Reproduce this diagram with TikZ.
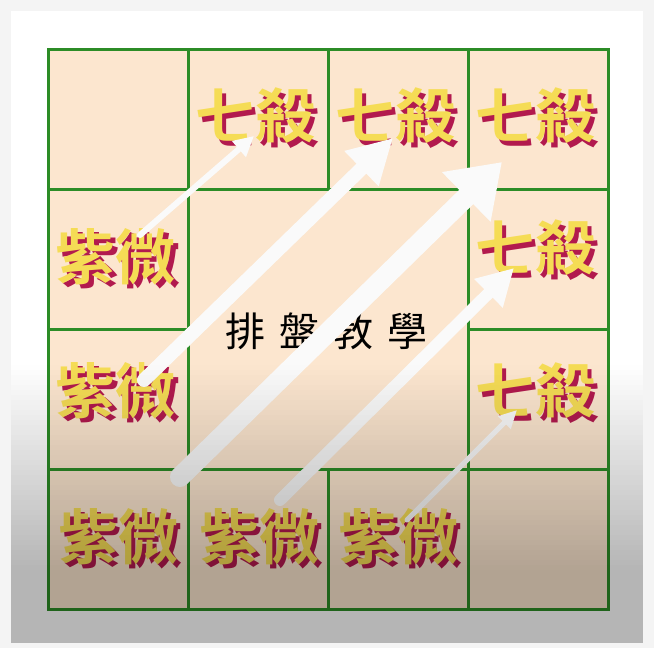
\documentclass[tikz,border=0pt]{standalone}
\usepackage{fontspec}
\newfontfamily\cjkb{Noto Sans CJK TC}[UprightFont=* Bold]
\newfontfamily\cjkr{Noto Sans CJK TC}
\usetikzlibrary{arrows.meta}
\definecolor{outerc}{RGB}{244,244,244}
\definecolor{peach}{RGB}{252,230,207}
\definecolor{gridg}{RGB}{44,140,38}
\definecolor{goldc}{RGB}{245,220,85}
\definecolor{crimc}{RGB}{178,26,78}
\definecolor{arrowc}{RGB}{250,250,250}
\newcommand\starlbl[1]{\rlap{\kern4.5pt\raisebox{-4.5pt}{\textcolor{crimc}{#1}}}\textcolor{goldc}{#1}}
\begin{document}
\begin{tikzpicture}[x=1pt,y=-1pt,
  cell/.style={draw=gridg, line width=2.6pt, fill=peach, minimum width=140pt, minimum height=140pt, inner sep=0pt, anchor=north west},
  bigcell/.style={cell, minimum width=280pt, minimum height=280pt},
  star/.style={font=\cjkb\fontsize{60pt}{60pt}\selectfont, inner sep=0pt},
  title/.style={font=\cjkr\fontsize{40pt}{40pt}\selectfont, text=black, inner sep=0pt},
  move/.style={draw=arrowc, line cap=round}]
\useasboundingbox (0,0) rectangle (654,648);
\fill[outerc] (0,0) rectangle (654,648);
\fill[white] (11,11) rectangle (643,643);
% cells
\node[cell] (c11) at (47,48) {};
\node[cell] (c12) at (187,48) {};
\node[cell] (c13) at (327,48) {};
\node[cell] (c14) at (467,48) {};
\node[cell] (c21) at (47,188) {};
\node[bigcell] (mid) at (187,188) {};
\node[cell] (c24) at (467,188) {};
\node[cell] (c31) at (47,328) {};
\node[cell] (c34) at (467,328) {};
\node[cell] (c41) at (47,468) {};
\node[cell] (c42) at (187,468) {};
\node[cell] (c43) at (327,468) {};
\node[cell] (c44) at (467,468) {};
% labels
\node[star] (q12) at (255,118) {\starlbl{七殺}};
\node[star] (q13) at (395,118) {\starlbl{七殺}};
\node[star] (q14) at (535,118) {\starlbl{七殺}};
\node[star] (q24) at (535,250) {\starlbl{七殺}};
\node[star] (q34) at (535,393) {\starlbl{七殺}};
\node[star] (z21) at (116,259) {\starlbl{紫微}};
\node[star] (z31) at (116,393) {\starlbl{紫微}};
\node[star] (z41) at (118,539) {\starlbl{紫微}};
\node[star] (z42) at (259,539) {\starlbl{紫微}};
\node[star] (z43) at (398,539) {\starlbl{紫微}};
\node[title] (ttl) at (326,331) {排\kern14pt 盤\kern14pt 教\kern14pt 學};
% arrow end points
\coordinate (a1s) at (140,235); \coordinate (a1e) at (254,136);
\coordinate (a2s) at (144,380); \coordinate (a2e) at (393,138);
\coordinate (a3s) at (180,477); \coordinate (a3e) at (502,162);
\coordinate (a4s) at (280,500); \coordinate (a4e) at (514,268);
\coordinate (a5s) at (407,520); \coordinate (a5e) at (517,410);
\draw[move, line width=6pt, -{Triangle[length=20pt,width=20pt]}] (a1s) -- (a1e);
\draw[move, line width=14pt, -{Triangle[length=44pt,width=46pt]}] (a2s) -- (a2e);
\draw[move, line width=20pt, -{Triangle[length=50pt,width=66pt]}] (a3s) -- (a3e);
\draw[move, line width=12pt, -{Triangle[length=36pt,width=38pt]}] (a4s) -- (a4e);
\draw[move, line width=5pt, -{Triangle[length=18pt,width=17pt]}] (a5s) -- (a5e);
% darkening of the lower part, in thin strips
\foreach \i [evaluate=\i as \op using {0.29*(\i+0.5)/41}] in {0,...,40} {
  \fill[black, opacity=\op] (11,{365+5*\i}) rectangle (643,{370+5*\i});
}
\fill[black, opacity=0.29] (11,570) rectangle (643,643);
\end{tikzpicture}
\end{document}
